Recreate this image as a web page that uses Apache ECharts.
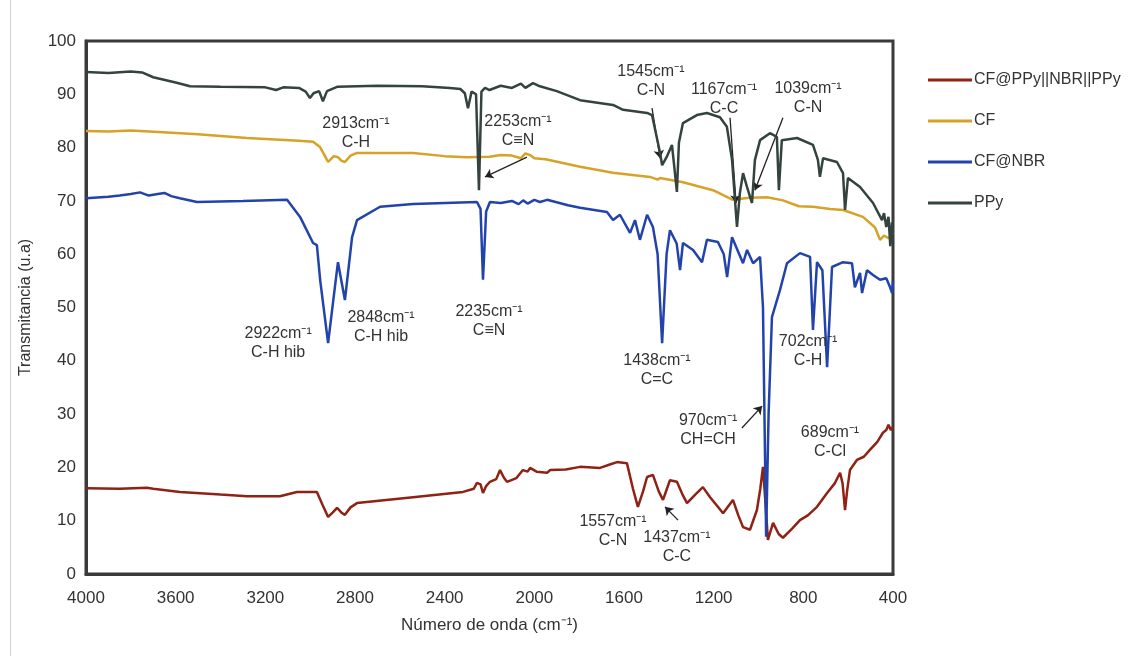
<!DOCTYPE html>
<html>
<head>
<meta charset="utf-8">
<script src="https://cdn.jsdelivr.net/npm/echarts@6/dist/echarts.min.js"></script>
<style>html,body{margin:0;padding:0;background:#fff}#c{width:1128px;height:661px}</style>
</head>
<body>
<div id="c"></div>
<script>
// ---- data: [wavenumber cm-1, transmittance] ----
const seriesNames = ['CF@PPy||NBR||PPy', 'CF', 'CF@NBR', 'PPy'];
const xTicks = [4000, 3600, 3200, 2800, 2400, 2000, 1600, 1200, 800, 400];
const yTicks = [0, 10, 20, 30, 40, 50, 60, 70, 80, 90, 100];

const redData = [[4000,16.1],[3850,16.0],[3728,16.2],[3700,16.0],[3581,15.4],[3400,14.9],[3282,14.6],[3135,14.6],[3059,15.4],[2970,15.4],[2945,13.0],[2920,10.7],[2900,11.5],[2880,12.4],[2860,11.5],[2845,11.1],[2820,12.5],[2791,13.3],[2541,14.4],[2318,15.4],[2270,16.0],[2256,17.1],[2240,16.8],[2229,15.2],[2215,16.5],[2198,17.3],[2170,17.8],[2153,19.5],[2135,18.0],[2122,17.3],[2080,18.0],[2051,19.5],[2030,19.2],[2019,19.9],[1990,19.2],[1943,19.0],[1930,19.5],[1860,19.6],[1796,20.1],[1707,19.9],[1660,20.6],[1631,21.0],[1587,20.8],[1560,16.0],[1538,12.6],[1515,15.5],[1497,18.2],[1471,18.6],[1445,15.5],[1426,13.9],[1410,15.8],[1395,17.6],[1364,17.3],[1340,15.0],[1319,13.3],[1280,15.0],[1248,16.3],[1216,14.4],[1185,12.8],[1158,11.4],[1114,13.9],[1090,11.0],[1069,8.8],[1038,8.3],[1007,12.0],[992,16.0],[980,20.1],[970,14.0],[958,6.4],[935,9.6],[910,7.5],[891,6.8],[850,8.5],[815,10.1],[780,11.0],[739,12.6],[694,15.2],[660,17.0],[636,19.0],[625,17.0],[614,12.0],[605,15.5],[592,19.5],[561,21.4],[530,22.0],[503,23.3],[470,24.8],[445,26.5],[430,27.0],[420,28.0],[410,27.0],[400,27.6]];

const cfData = [[4000,83.1],[3900,83.0],[3800,83.2],[3657,82.9],[3500,82.5],[3282,81.8],[3050,81.3],[2987,81.1],[2956,80.1],[2935,78.5],[2920,77.3],[2895,78.4],[2876,78.2],[2860,77.5],[2845,77.3],[2820,78.5],[2791,79.0],[2541,79.0],[2400,78.4],[2300,78.2],[2200,78.3],[2150,78.6],[2100,78.5],[2060,78.0],[2040,78.9],[2019,78.6],[2000,78.0],[1950,77.8],[1796,76.4],[1650,75.3],[1484,74.5],[1450,74.0],[1439,74.3],[1337,73.5],[1203,72.0],[1114,70.2],[1040,70.6],[962,70.7],[891,70.1],[820,69.0],[757,68.9],[680,68.5],[623,68.3],[534,67.0],[480,65.0],[458,62.7],[440,63.5],[420,63.0],[400,64.0]];

const nbrData = [[4000,70.5],[3900,70.8],[3850,71.0],[3800,71.3],[3759,71.6],[3720,71.0],[3680,71.3],[3650,71.5],[3620,70.9],[3581,70.5],[3505,69.8],[3300,70.0],[3103,70.2],[3045,67.0],[2987,62.1],[2970,61.7],[2955,55.0],[2920,43.3],[2895,52.0],[2876,58.5],[2845,51.4],[2813,63.2],[2791,66.4],[2688,68.9],[2541,69.4],[2256,69.8],[2240,68.5],[2229,55.2],[2215,68.0],[2198,69.8],[2150,69.6],[2100,70.0],[2070,69.4],[2050,70.1],[2030,69.5],[2000,70.2],[1975,69.8],[1943,70.2],[1850,69.2],[1796,68.7],[1676,67.9],[1649,66.4],[1618,67.4],[1573,64.0],[1551,66.4],[1529,62.7],[1497,67.4],[1471,65.1],[1450,60.0],[1430,43.3],[1410,60.0],[1395,64.5],[1365,62.0],[1350,57.0],[1337,62.1],[1292,60.8],[1252,58.5],[1230,62.7],[1181,62.3],[1155,60.0],[1140,55.7],[1118,63.2],[1069,58.3],[1051,60.8],[1024,58.3],[993,59.5],[980,50.0],[966,7.0],[955,30.0],[940,48.2],[904,53.3],[873,58.3],[815,60.2],[770,59.5],[757,45.8],[739,58.5],[715,57.0],[694,38.8],[672,57.6],[623,58.5],[583,58.3],[570,53.8],[547,56.5],[538,52.7],[516,57.0],[489,56.1],[458,55.2],[430,55.5],[415,54.0],[404,52.7],[400,55.0]];

const ppyData = [[4000,94.2],[3900,94.0],[3800,94.3],[3750,94.1],[3700,93.2],[3600,92.2],[3536,91.5],[3400,91.4],[3200,91.3],[3152,90.8],[3120,91.3],[3050,91.2],[3020,90.5],[3001,89.3],[2985,90.2],[2960,90.6],[2943,88.7],[2925,90.6],[2880,91.4],[2700,91.6],[2500,91.5],[2376,91.2],[2330,91.0],[2310,90.2],[2296,87.4],[2280,90.5],[2260,90.0],[2247,72.0],[2236,90.5],[2220,91.2],[2200,90.8],[2150,91.6],[2100,91.2],[2060,92.0],[2040,91.2],[2006,92.1],[1975,91.5],[1900,90.6],[1796,88.9],[1649,88.0],[1604,87.1],[1497,86.5],[1475,86.1],[1439,79.0],[1430,76.7],[1410,78.2],[1386,80.5],[1364,71.7],[1355,80.9],[1337,84.6],[1275,86.1],[1230,86.5],[1172,85.7],[1141,83.9],[1118,77.7],[1096,65.1],[1083,71.5],[1069,75.2],[1051,72.6],[1029,69.6],[1016,77.7],[993,81.4],[949,82.7],[918,82.0],[909,72.0],[896,81.4],[828,81.8],[757,80.5],[735,77.7],[726,74.5],[712,78.0],[650,77.3],[623,75.2],[614,68.3],[601,74.3],[547,72.6],[489,69.6],[449,66.4],[440,67.7],[430,65.1],[420,67.0],[412,61.5],[405,66.0],[400,62.0]];

// annotations: [wavenumber, transmittance, text]
const labels = [
  [2796, 82.7, '2913cm⁻¹\nC-H'],
  [2073, 83.1, '2253cm⁻¹\nC≡N'],
  [1480, 92.5, '1545cm⁻¹\nC-N'],
  [1154, 89.1, '1167cm⁻¹\nC-C'],
  [779, 89.3, '1039cm⁻¹\nC-N'],
  [3143, 43.3, '2922cm⁻¹\nC-H hib'],
  [2684, 46.3, '2848cm⁻¹\nC-H hib'],
  [2202, 47.5, '2235cm⁻¹\nC≡N'],
  [1453, 38.3, '1438cm⁻¹\nC=C'],
  [779, 41.8, '702cm⁻¹\nC-H'],
  [1225, 27.0, '970cm⁻¹\nCH=CH'],
  [681, 24.8, '689cm⁻¹\nC-Cl'],
  [1649, 8.1, '1557cm⁻¹\nC-N'],
  [1364, 5.1, '1437cm⁻¹\nC-C']
];
// arrows: [fromW, fromT, toW, toT]
const arrows = [
  [2033, 78.2, 2220, 74.5],
  [1475, 87.4, 1439, 78.0],
  [1127, 85.6, 1100, 69.6],
  [891, 85.6, 1016, 72.0],
  [1074, 27.4, 984, 31.5],
  [1359, 10.1, 1417, 12.6]
];

const colors = ['#8e2214', '#d6a227', '#2244aa', '#34433f'];
const datasets = [redData, cfData, nbrData, ppyData];

const chart = echarts.init(document.getElementById('c'));
const FONT = 'Liberation Sans, Arial, sans-serif';

const series = seriesNames.map((n, i) => ({
  name: n,
  type: 'line',
  data: datasets[i],
  symbol: 'none',
  showSymbol: false,
  lineStyle: { width: 2.5, color: colors[i] },
  itemStyle: { color: colors[i] },
  z: 2 + i,
  animation: false
}));
series[3].markLine = {
  silent: true,
  animation: false,
  symbol: ['none', 'arrow'],
  symbolSize: 8,
  label: { show: false },
  lineStyle: { color: '#222', width: 1.3, type: 'solid' },
  data: arrows.map(a => [{ coord: [a[0], a[1]] }, { coord: [a[2], a[3]] }])
};

chart.setOption({
  backgroundColor: '#fff',
  animation: false,
  color: colors,
  grid: { left: 86, right: 235, top: 41, bottom: 87, show: true, borderColor: '#3a3a3a', borderWidth: 3 },
  legend: {
    orient: 'vertical', left: 923, top: 65,
    itemWidth: 44, itemHeight: 3, itemGap: 21,
    data: seriesNames.map((n, i) => ({ name: n, icon: 'rect', itemStyle: { color: colors[i] } })),
    itemStyle: { borderWidth: 0 },
    textStyle: { fontFamily: FONT, fontSize: 16, color: '#333', lineHeight: 20, padding: [0, 0, 0, -3] }
  },
  xAxis: {
    type: 'value', inverse: true, min: 400, max: 4000, interval: 400,
    name: 'Número de onda (cm⁻¹)', nameLocation: 'middle', nameGap: 43,
    nameTextStyle: { fontFamily: FONT, fontSize: 17, color: '#333' },
    axisLine: { show: true, lineStyle: { color: '#3a3a3a', width: 3 } },
    axisTick: { show: false },
    splitLine: { show: false },
    axisLabel: { fontFamily: 'Liberation Sans Narrow, ' + FONT, fontSize: 17, color: '#333', margin: 16,
      formatter: v => xTicks.includes(v) ? String(v) : '' }
  },
  yAxis: {
    type: 'value', min: 0, max: 100, interval: 10,
    name: 'Transmitancia (u.a)', nameLocation: 'middle', nameGap: 52, nameRotate: 90,
    nameTextStyle: { fontFamily: FONT, fontSize: 16, color: '#333' },
    axisLine: { show: true, lineStyle: { color: '#3a3a3a', width: 3 } },
    axisTick: { show: false },
    splitLine: { show: false },
    axisLabel: { fontFamily: FONT, fontSize: 17, color: '#333', margin: 10,
      formatter: v => yTicks.includes(v) ? String(v) : '' }
  },
  series: series
});

const graphics = labels.map(a => {
  const p = chart.convertToPixel({ xAxisIndex: 0, yAxisIndex: 0 }, [a[0], a[1]]);
  return {
    type: 'text', x: p[0], y: p[1], z: 100, silent: true,
    style: { text: a[2], fill: '#333', fontSize: 16, fontFamily: FONT,
      align: 'center', verticalAlign: 'middle', lineHeight: 19 }
  };
});
graphics.push({
  type: 'line', silent: true, z: 0,
  shape: { x1: 10.5, y1: 0, x2: 10.5, y2: 656 },
  style: { stroke: '#d0d0d0', lineWidth: 1 }
});
chart.setOption({ graphic: graphics });
</script>
</body>
</html>
